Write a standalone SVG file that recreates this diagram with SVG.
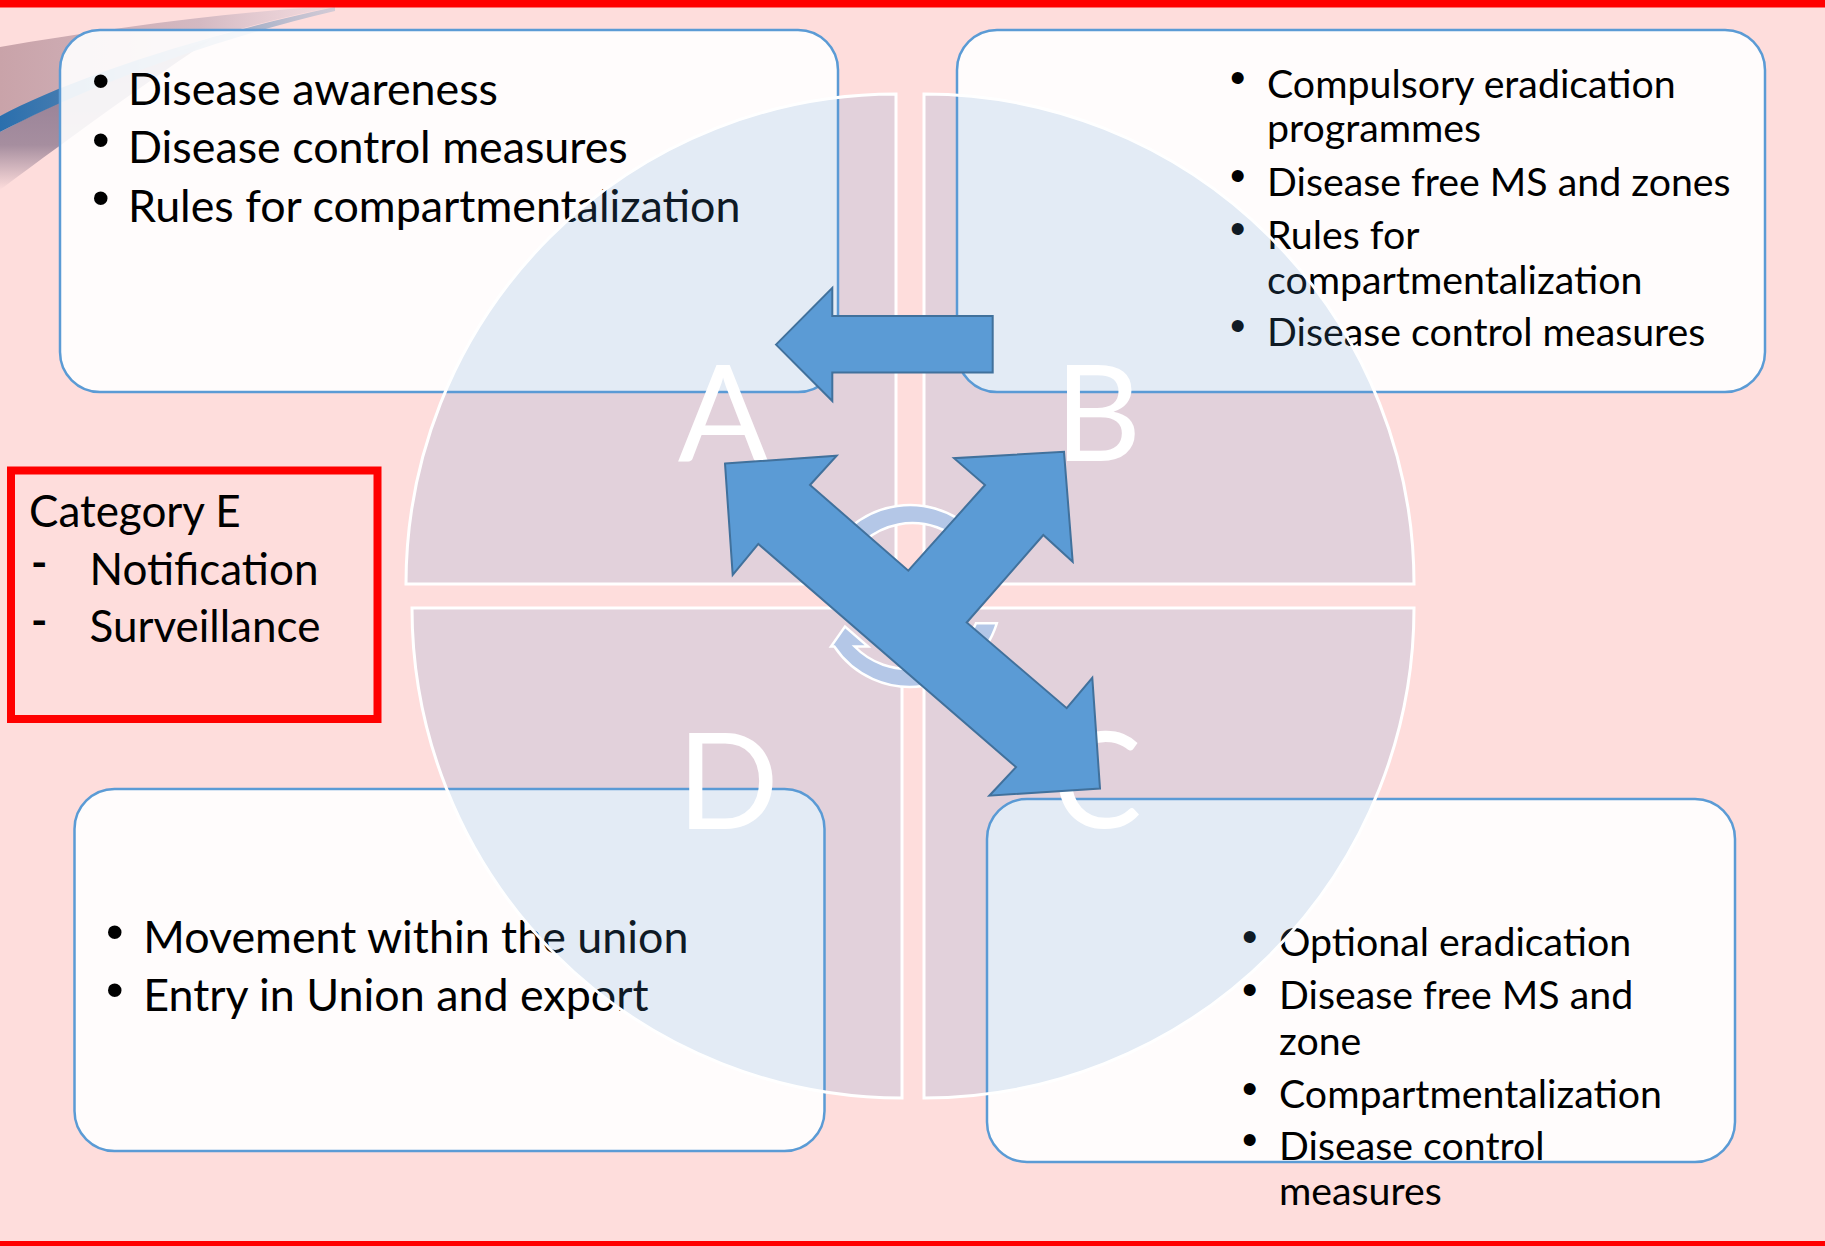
<svg xmlns="http://www.w3.org/2000/svg" width="1825" height="1246" viewBox="0 0 1825 1246">
<defs>
<style>
.box{fill:#ffffff;fill-opacity:0.9;stroke:#5B9BD5;stroke-width:2.5}
.tl{font-family:Lato,"Liberation Sans",sans-serif;font-size:44.8px;fill:#000}
.tc{font-family:Lato,"Liberation Sans",sans-serif;font-size:44px;fill:#000}
.ts{font-family:Lato,"Liberation Sans",sans-serif;font-size:39.3px;fill:#000}
.bl{font-family:"Liberation Sans",sans-serif;font-size:50px;fill:#000}
.bs{font-family:"Liberation Sans",sans-serif;font-size:44px;fill:#000}
.quad{fill:#5B9BD5;fill-opacity:0.17;stroke:#ffffff;stroke-width:3}
.big{font-family:Lato,"Liberation Sans",sans-serif;font-size:134px;fill:#ffffff;text-anchor:middle}
.cyc{fill:#B4C7E7;stroke:#ffffff;stroke-width:2.5}
.arr{fill:#5B9BD5;stroke:#41719C;stroke-width:2;stroke-linejoin:miter}
</style>
<linearGradient id="band" x1="0" y1="0" x2="1" y2="0">
<stop offset="0" stop-color="#C9A3A9"/>
<stop offset="0.6" stop-color="#D4B9C2"/>
<stop offset="1" stop-color="#E3D3DC" stop-opacity="0.4"/>
</linearGradient>
<linearGradient id="stripe" x1="0" y1="0" x2="1" y2="0">
<stop offset="0" stop-color="#2A6FAD"/>
<stop offset="0.5" stop-color="#6E8FB5"/>
<stop offset="1" stop-color="#A9B8CF" stop-opacity="0.5"/>
</linearGradient>
<linearGradient id="dark" x1="0" y1="0" x2="0" y2="1">
<stop offset="0" stop-color="#8A7690"/>
<stop offset="0.7" stop-color="#A68E9F"/>
<stop offset="1" stop-color="#FEDDDC"/>
</linearGradient>
</defs>
<rect x="0" y="0" width="1825" height="1246" fill="#FEDDDC"/>
<g id="swoosh">
<path fill="url(#band)" d="M0,47 C100,30 210,14 320,7 L335,7 C250,22 120,62 0,116 Z"/>
<path fill="url(#dark)" d="M0,132 C65,98 140,64 210,40 C150,80 80,130 0,190 Z"/>
<path fill="url(#stripe)" d="M0,116 C60,84 180,40 335,7 L335,11 C185,46 65,98 0,132 Z"/>
</g>
<rect x="0" y="0" width="1825" height="7.5" fill="#FF0000"/>
<rect x="0" y="1241" width="1825" height="5" fill="#FF0000"/>
<g id="box-a">
<rect class="box" x="60" y="30" width="778" height="362" rx="40"/>
<text class="bl" x="92" y="98">•</text>
<text class="bl" x="92" y="156.5">•</text>
<text class="bl" x="92" y="215">•</text>
<text class="tl" x="128" y="104.5">Disease awareness</text>
<text class="tl" x="128" y="163">Disease control measures</text>
<text class="tl" x="128" y="221.5">Rules for compartmentalization</text>
</g>
<g id="box-b">
<rect class="box" x="957" y="30" width="808" height="362" rx="40"/>
<text class="bs" x="1230" y="93">•</text>
<text class="bs" x="1230" y="191">•</text>
<text class="bs" x="1230" y="244">•</text>
<text class="bs" x="1230" y="341">•</text>
<text class="ts" x="1267" y="97.5">Compulsory eradication</text>
<text class="ts" x="1267" y="141.5">programmes</text>
<text class="ts" x="1267" y="195.5">Disease free MS and zones</text>
<text class="ts" x="1267" y="248.5">Rules for</text>
<text class="ts" x="1267" y="294">compartmentalization</text>
<text class="ts" x="1267" y="345.5">Disease control measures</text>
</g>
<g id="box-c">
<rect class="box" x="987" y="799" width="748" height="363" rx="40"/>
<text class="bs" x="1242" y="952">•</text>
<text class="bs" x="1242" y="1005">•</text>
<text class="bs" x="1242" y="1104">•</text>
<text class="bs" x="1242" y="1155">•</text>
<text class="ts" x="1279" y="956">Optional eradication</text>
<text class="ts" x="1279" y="1009">Disease free MS and</text>
<text class="ts" x="1279" y="1055">zone</text>
<text class="ts" x="1279" y="1108">Compartmentalization</text>
<text class="ts" x="1279" y="1159.5">Disease control</text>
<text class="ts" x="1279" y="1205">measures</text>
</g>
<g id="box-d">
<rect class="box" x="74.5" y="789" width="750" height="362" rx="40"/>
<text class="bl" x="106" y="949">•</text>
<text class="bl" x="106" y="1006.5">•</text>
<text class="tl" x="143.3" y="953">Movement within the union</text>
<text class="tl" x="143.3" y="1010.5">Entry in Union and export</text>
</g>
<g id="category-e">
<rect x="11" y="470.5" width="366.5" height="248.5" fill="none" stroke="#FF0000" stroke-width="8"/>
<text class="tc" x="29" y="526.7">Category E</text>
<text class="tc" x="31" y="578" font-weight="700">-</text>
<text class="tc" x="89.5" y="585">Notification</text>
<text class="tc" x="31" y="636" font-weight="700">-</text>
<text class="tc" x="89.5" y="641.7">Surveillance</text>
</g>
<g id="matrix">
<path id="quad-a" class="quad" d="M896,584 L406,584 A490,490 0 0 1 896,94 Z"/>
<path id="quad-b" class="quad" d="M924,584 L924,94 A490,490 0 0 1 1414,584 Z"/>
<path id="quad-c" class="quad" d="M924,608 L1414,608 A490,490 0 0 1 924,1098 Z"/>
<path id="quad-d" class="quad" d="M902,608 L902,1098 A490,490 0 0 1 412,608 Z"/>
<text class="big" x="723" y="461">A</text>
<text class="big" x="1098" y="461">B</text>
<text class="big" x="1097" y="828">C</text>
<text class="big" x="728" y="829">D</text>
<path id="cycle-lower" class="cyc" d="M976,623.3 L996.8,623.3 A91,91 0 0 1 834.3,646.5 L831,646.5 L845,626.5 L868,646.5 L854.6,646.5 A74,74 0 0 0 976,623.3 Z"/>
<path id="cycle-upper" class="cyc" d="M844,568.7 L823.2,568.7 A91,91 0 0 1 985.7,545.5 L989,545.5 L975,565.5 L952,545.5 L965.4,545.5 A74,74 0 0 0 844,568.7 Z"/>
</g>
<g id="connectors">
<path id="arrow-b-to-a" class="arr" d="M776,344.6 L832.3,287.9 L832.3,316 L992.7,316 L992.7,372.5 L832.3,372.5 L832.3,401 Z"/>
<path id="arrow-a-b-c" class="arr" d="M725,463.6 L836.7,455.7 L810,485 L908.3,570.7 L985,485 L954,458.2 L1064,451.8 L1072.7,561.8 L1043.3,535 L966.7,622.5 L1066.7,708.2 L1092.3,677.9 L1100,788.6 L989.3,795.7 L1016,767.1 L758.3,543.9 L732.7,575 Z"/>
</g>
</svg>
